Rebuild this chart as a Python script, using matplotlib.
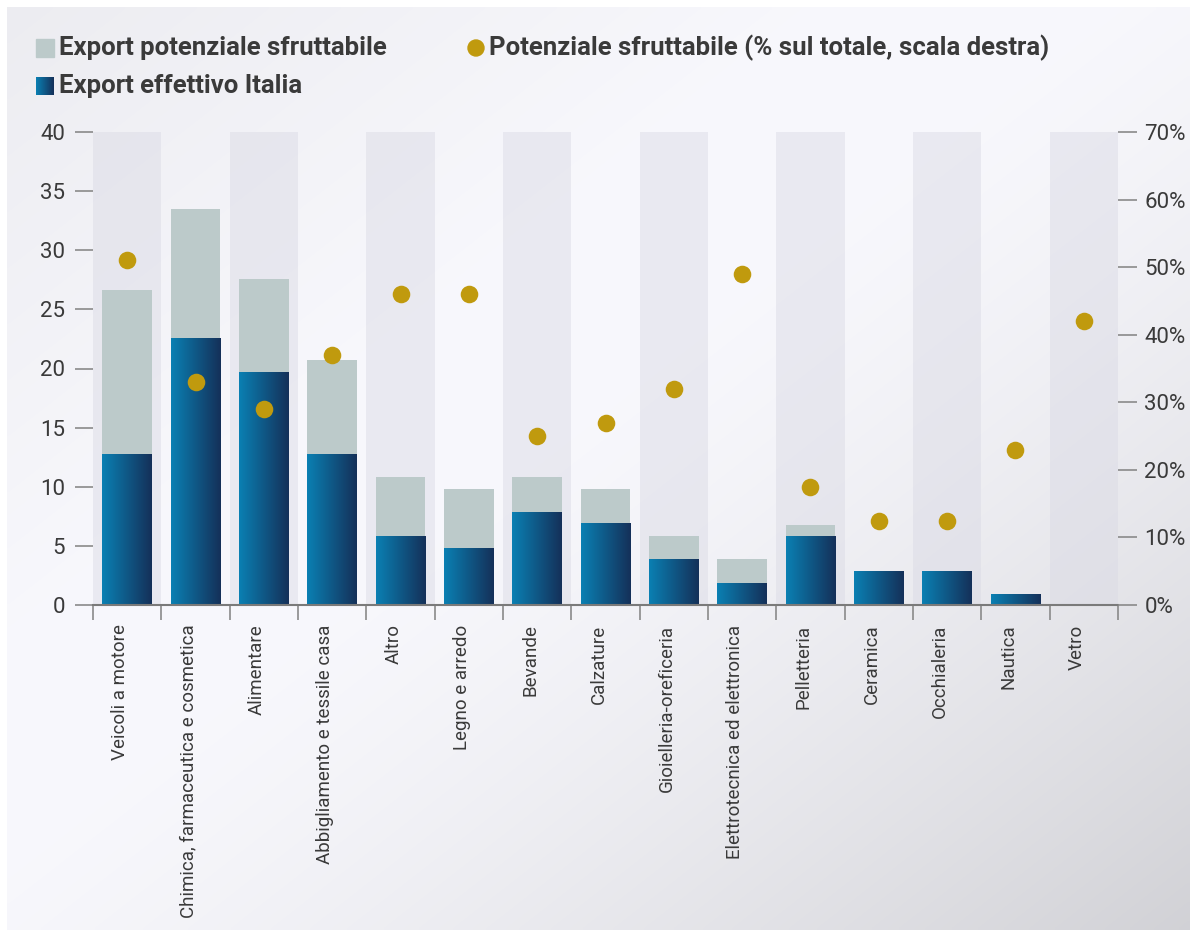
import numpy as np
import matplotlib
matplotlib.use('Agg')
import matplotlib.pyplot as plt
from matplotlib.patches import Rectangle, Circle

plt.rcParams['font.family'] = ['Roboto', 'DejaVu Sans']

categories = ['Veicoli a motore', 'Chimica, farmaceutica e cosmetica', 'Alimentare',
              'Abbigliamento e tessile casa', 'Altro', 'Legno e arredo', 'Bevande',
              'Calzature', 'Gioielleria-oreficeria', 'Elettrotecnica ed elettronica',
              'Pelletteria', 'Ceramica', 'Occhialeria', 'Nautica', 'Vetro']
# export effettivo Italia (scala sinistra)
effettivo = [12.8, 22.6, 19.7, 12.8, 5.8, 4.8, 7.9, 6.9, 3.9, 1.9, 5.8, 2.9, 2.9, 0.95, 0.0]
# effettivo + potenziale sfruttabile (altezza totale barra)
totale = [26.6, 33.5, 27.6, 20.7, 10.8, 9.8, 10.8, 9.8, 5.8, 3.9, 6.8, 2.9, 2.9, 0.95, 0.0]
# potenziale sfruttabile, % sul totale (scala destra)
quota_pct = [51, 33, 29, 37, 46, 46, 25, 27, 32, 49, 17.5, 12.5, 12.5, 23, 42]

W, H = 1190, 932
fig = plt.figure(figsize=(W / 100, H / 100), dpi=100)
fig.patch.set_facecolor('white')

# background panel with soft gradient
bg = fig.add_axes([0, 0, 1, 1], zorder=-5)
bg.axis('off')
xx, yy = np.meshgrid(np.linspace(0, 1, 300), np.linspace(0, 1, 240))
u = (xx + yy) / 2
v = 0.972 - 0.045 * np.clip((0.35 - u) / 0.35, 0, 1) - 0.15 * np.clip((u - 0.45) / 0.55, 0, 1) ** 1.4
img = np.dstack([v, v, np.minimum(v + 0.018, 1)])
bg.imshow(img, extent=[7, W, H - 2, 7], aspect='auto', interpolation='bilinear')

grad_blue = np.dstack([np.linspace(c0, c1, 64)[None, :] for c0, c1 in
                       zip((0.04, 0.50, 0.70), (0.08, 0.19, 0.35))])

# legend (drawn in pixel coordinates of the background axes)
txtc = '#3a3a3a'
bg.add_patch(Rectangle((36, 39), 18, 18, color='#bccaca'))
bg.imshow(grad_blue, extent=[36, 54, 95, 77], aspect='auto')
bg.set_xlim(0, W)
bg.set_ylim(H, 0)
bg.text(59, 48, 'Export potenziale sfruttabile', fontsize=18.5, fontweight='bold', color=txtc, va='center')
bg.text(59, 86, 'Export effettivo Italia', fontsize=18.5, fontweight='bold', color=txtc, va='center')
bg.add_patch(Circle((476, 48), 8, color='#c09a0e'))
bg.text(489, 48, 'Potenziale sfruttabile (% sul totale, scala destra)', fontsize=18.5,
        fontweight='bold', color=txtc, va='center')

ax = fig.add_axes([93 / W, 1 - 605 / H, (1118 - 93) / W, (605 - 132) / H])
ax.set_facecolor('none')
x = np.arange(len(categories))
for i in x[::2]:
    ax.axvspan(i - 0.5, i + 0.5, color='#d9d9e4', alpha=0.45, lw=0, zorder=0)

bw = 0.73
ax.bar(x, totale, width=bw, color='#bccaca', zorder=2)
bars = ax.bar(x, effettivo, width=bw, color='#0e5a88', zorder=3)
for b in bars:
    if b.get_height() <= 0:
        continue
    x0 = b.get_x()
    im = ax.imshow(grad_blue, extent=[x0, x0 + bw, 0, b.get_height()], aspect='auto', zorder=4)
    im.set_clip_path(b)

ax.set_xlim(-0.5, len(categories) - 0.5)
ax.set_ylim(0, 40)
ax.set_yticks(range(0, 41, 5))
for s in ['top', 'right', 'left']:
    ax.spines[s].set_visible(False)
ax.spines['bottom'].set_color('#7a7a7a')
ax.spines['bottom'].set_linewidth(1.5)
ax.spines['bottom'].set_zorder(6)
ax.tick_params(axis='y', length=13, width=1.2, color='#8a8a8a', pad=7, labelsize=16, labelcolor=txtc)
ax.set_xticks(x - 0.1)
ax.set_xticklabels(categories, rotation=90, fontsize=13.5, color=txtc, va='top')
ax.set_xticks(np.arange(-0.5, len(categories), 1), minor=True)
ax.tick_params(axis='x', which='major', length=0, pad=14)
ax.tick_params(axis='x', which='minor', length=11, width=1.2, color='#8a8a8a')

ax2 = ax.twinx()
ax2.set_ylim(0, 70)
ax2.set_yticks(range(0, 71, 10))
ax2.set_yticklabels([f'{t}%' for t in range(0, 71, 10)])
for s in ['top', 'right', 'left', 'bottom']:
    ax2.spines[s].set_visible(False)
ax2.tick_params(axis='y', length=14, width=1.2, color='#8a8a8a', pad=5, labelsize=16, labelcolor=txtc)
ax2.scatter(x, quota_pct, s=160, color='#c09a0e', zorder=5, lw=0)

fig.savefig('out.png', dpi=100)
